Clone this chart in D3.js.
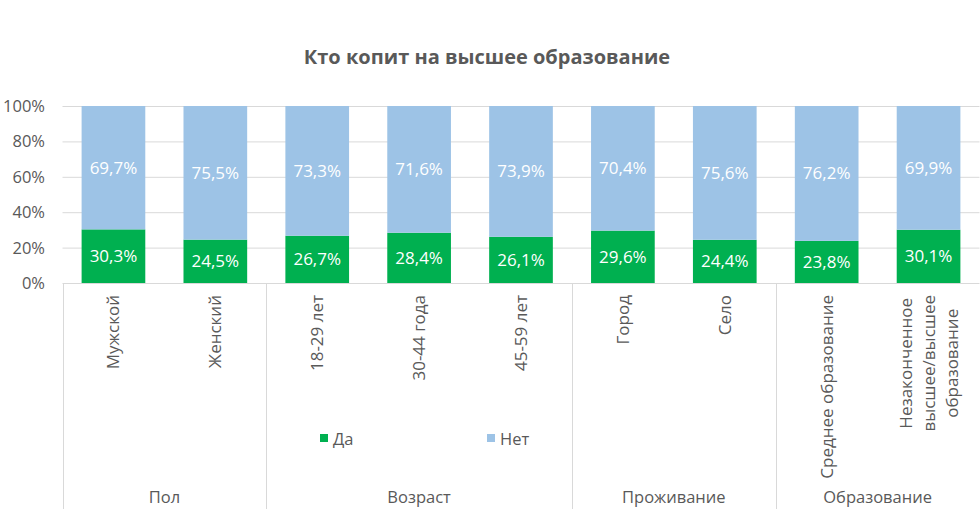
<!DOCTYPE html>
<html><head><meta charset="utf-8">
<script src="https://cdn.jsdelivr.net/npm/d3@7"></script>
<style>body{margin:0;background:#fff;}svg{display:block;font-family:"Open Sans",sans-serif;}</style>
</head><body>
<svg id="c" width="980" height="509"></svg>
<script>
const title = "Кто копит на высшее образование";
const categories = ["Мужской","Женский","18-29 лет","30-44 года","45-59 лет","Город","Село","Среднее образование","Незаконченное высшее/высшее образование"];
const categoryLines = [["Мужской"],["Женский"],["18-29 лет"],["30-44 года"],["45-59 лет"],["Город"],["Село"],["Среднее образование"],["Незаконченное","высшее/высшее","образование"]];
const groups = ["Пол","Возраст","Проживание","Образование"];
const groupSizes = [2,3,2,2];
const seriesNames = ["Да","Нет"];
const yes = [30.3,24.5,26.7,28.4,26.1,29.6,24.4,23.8,30.1];
const no  = [69.7,75.5,73.3,71.6,73.9,70.4,75.6,76.2,69.9];
const yTicks = [0,20,40,60,80,100];
const colors = ["#00B050","#9DC3E6"];
const textColor = "#595959";

const svg = d3.select("#c");
const L = 62.5, R = 979.5, T = 106, B = 283;
const FS = 16.5;
const x = d3.scaleBand().domain(categories).range([L,R]).paddingInner(0.375).paddingOuter(0.1875);
const y = d3.scaleLinear().domain([0,100]).range([B,T]);

svg.append("text").attr("x",487).attr("y",64).attr("text-anchor","middle")
  .attr("font-size",20).attr("font-weight","bold").attr("fill",textColor).text(title);

// gridlines
svg.append("g").selectAll("line").data(yTicks.filter(d=>d>0)).join("line")
  .attr("x1",L).attr("x2",R).attr("y1",d=>y(d)+0.5).attr("y2",d=>y(d)+0.5)
  .attr("stroke","#d9d9d9").attr("stroke-width",1);

// y labels
svg.append("g").selectAll("text").data(yTicks).join("text")
  .attr("x",45).attr("y",d=>y(d)+6).attr("text-anchor","end")
  .attr("font-size",FS).attr("fill",textColor).text(d=>d+"%");

// stacked data
const rows = categories.map((c,i)=>({cat:c, yes:yes[i], no:no[i]}));
const stack = d3.stack().keys(["yes","no"])(rows);
const fmt = v => v.toFixed(1).replace(".",",")+"%";
stack.forEach((s,si)=>{
  const g = svg.append("g");
  g.selectAll("rect").data(s).join("rect")
    .attr("x",d=>x(d.data.cat)).attr("width",x.bandwidth())
    .attr("y",d=>y(d[1])).attr("height",d=>y(d[0])-y(d[1]))
    .attr("fill",colors[si]);
  g.selectAll("text").data(s).join("text")
    .attr("x",d=>x(d.data.cat)+x.bandwidth()/2)
    .attr("y",d=>(y(d[0])+y(d[1]))/2+6)
    .attr("text-anchor","middle").attr("font-size",FS+0.5).attr("fill","#fff")
    .text(d=>fmt(d[1]-d[0]));
});

// axis line
svg.append("line").attr("x1",L).attr("x2",R).attr("y1",B+0.5).attr("y2",B+0.5)
  .attr("stroke","#d9d9d9").attr("stroke-width",1);

// group separators
const step = x.step();
let idx = 0;
const bounds = [L];
groupSizes.forEach(n=>{ idx+=n; bounds.push(L + idx*step); });
svg.append("g").selectAll("line").data(bounds.slice(0,-1)).join("line")
  .attr("x1",d=>Math.round(d)+0.5).attr("x2",d=>Math.round(d)+0.5).attr("y1",B).attr("y2",509)
  .attr("stroke","#d9d9d9").attr("stroke-width",1);
svg.append("g").selectAll("text").data(groups).join("text")
  .attr("x",(d,i)=>(bounds[i]+bounds[i+1])/2).attr("y",503)
  .attr("text-anchor","middle").attr("font-size",FS).attr("fill",textColor).text(d=>d);

// category labels (rotated)
const lineH = 23;
categoryLines.forEach((lines,i)=>{
  const cx = x(categories[i]) + x.bandwidth()/2;
  const g = svg.append("g");
  const n = lines.length;
  const ts = lines.map((ln,j)=>{
    return g.append("text").attr("font-size",FS+0.5).attr("fill",textColor).text(ln);
  });
  const maxLen = d3.max(ts, t=>t.node().getComputedTextLength());
  const top = 295;
  ts.forEach((t,j)=>{
    const off = (j-(n-1)/2)*lineH;
    const px = cx + off + 6;
    const py = top + maxLen/2;
    t.attr("text-anchor","middle").attr("transform",`translate(${px},${py}) rotate(-90)`);
  });
});

// legend
const legX = [320,487];
seriesNames.forEach((s,i)=>{
  svg.append("rect").attr("x",legX[i]).attr("y",434).attr("width",8).attr("height",8).attr("fill",colors[i]);
  svg.append("text").attr("x",legX[i]+13).attr("y",444.5).attr("font-size",FS).attr("fill",textColor).text(s);
});
</script>
</body></html>
